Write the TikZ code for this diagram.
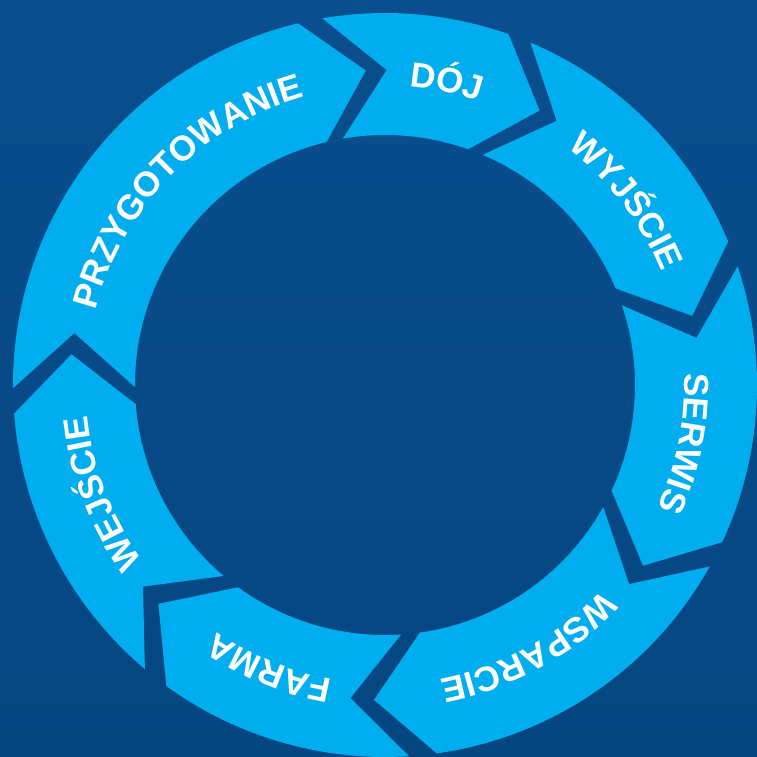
\documentclass[tikz,border=0pt]{standalone}
\usepackage{fontspec}
\setmainfont{Liberation Sans}
\usetikzlibrary{decorations.text}
\definecolor{bgblue}{RGB}{4,70,128}
\definecolor{bgtop}{RGB}{10,78,142}
\definecolor{segblue}{RGB}{0,174,239}
\newcommand{\lblfmt}{\bfseries\fontsize{35pt}{35pt}\selectfont}
\tikzset{
  segment/.style={fill=segblue},
  ringlabel/.style={decorate, decoration={text along path, text align=center, text color=white}}
}
\newcommand{\segpiece}[3]{% name, start angle a, end angle b (clockwise)
  \fill[segment] (#2:372pt) arc[start angle=#2, end angle=#3, radius=372pt]
    -- ({#3-10}:315pt) -- (#3:250pt)
    arc[start angle=#3, end angle=#2, radius=250pt]
    -- ({#2-10}:315pt) -- cycle;
  \coordinate (#1) at ({(#2+#3)/2}:311pt);
}
\newcommand{\seglabel}[2]{% center angle, text
  \path[ringlabel, decoration={text={|\lblfmt|#2}}]
    ({#1+40}:299pt) arc[start angle={#1+40}, end angle={#1-40}, radius=299pt];
}
\begin{document}
\begin{tikzpicture}
\shade[top color=bgtop, bottom color=bgblue] (0pt,0pt) rectangle (757pt,756pt);
\useasboundingbox (0pt,0pt) rectangle (757pt,756pt);
\begin{scope}[shift={(385pt,371pt)}]
  \segpiece{przyg}{180.5}{103.5}
  \segpiece{doj}{99.7}{70.6}
  \segpiece{wyjs}{67}{22.7}
  \segpiece{serw}{18.6}{-25}
  \segpiece{wspa}{-29.2}{-82}
  \segpiece{farm}{-86.3}{-126}
  \segpiece{wejs}{-130.2}{-175.6}
  \seglabel{135.6}{PRZYGOTOWANIE}
  \seglabel{78.5}{DÓJ}
  \seglabel{37.3}{WYJŚCIE}
  \seglabel{-11}{SERWIS}
  \seglabel{-61.4}{WSPARCIE}
  \seglabel{-112.2}{FARMA}
  \seglabel{-159}{WEJŚCIE}
\end{scope}
\end{tikzpicture}
\end{document}
